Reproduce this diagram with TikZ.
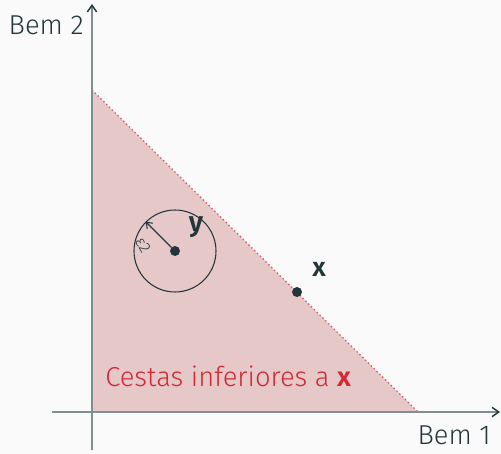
\documentclass[tikz,border=0pt]{standalone}
\usepackage{fontspec}
\setmainfont{Fira Sans Light}[BoldFont={Fira Sans SemiBold}]
\usetikzlibrary{arrows.meta}
\definecolor{bgc}{HTML}{FAFAFA}
\definecolor{txt}{HTML}{23373B}
\definecolor{axc}{HTML}{7F8E8E}
\definecolor{fillc}{HTML}{E6C8C8}
\definecolor{redc}{HTML}{D02A35}
\tikzset{
  axis/.style={axc, line width=1.1pt, -{Straight Barb[length=5pt,width=7pt,color=txt]}},
  lbl/.style={text=txt, font=\fontsize{20.5}{24}\selectfont, inner sep=0pt},
  dotpt/.style={circle, fill=txt, inner sep=0pt, minimum size=7.5pt},
}
\begin{document}
\begin{tikzpicture}[x=0.75pt,y=-0.75pt]
\fill[bgc] (0,0) rectangle (501,454);
\useasboundingbox (0,0) rectangle (501,454);
% region
\coordinate (O) at (92,412);
\coordinate (A) at (92,90);
\coordinate (B) at (418,412);
\fill[fillc] (O) -- (A) -- (B) -- cycle;
\draw[redc!80, line width=1pt, dotted] (A) -- (B);
% axes
\coordinate (xs) at (52,412);
\coordinate (xe) at (500,412);
\coordinate (ys) at (92,450);
\coordinate (ye) at (92,4);
\draw[axis] (xs) -- (xe);
\draw[axis] (ys) -- (ye);
\node[lbl, anchor=base east] (b1) at (491,444) {Bem 1};
\node[lbl, anchor=base east] (b2) at (84,34) {Bem 2};
% point x
\node[dotpt] (px) at (297,292) {};
\node[lbl, font=\fontsize{20}{24}\selectfont\bfseries] (lx) at (319,269) {x};
% circle and y
\node[dotpt] (py) at (175,251) {};
\node[draw=txt, circle, line width=0.8pt, minimum size=82pt*0.75, inner sep=0pt] (circ) at (175,251) {};
\draw[txt, line width=0.8pt, -{Straight Barb[length=4pt,width=6pt]}] (py) -- (circ.135);
\node[lbl, font=\fontsize{12}{14}\selectfont, rotate=-60] (eps) at (143,245) {ε2};
\node[lbl, font=\fontsize{21}{25}\selectfont\bfseries] (ly) at (196,227) {y};
% caption
\node[text=redc, font=\fontsize{20.5}{24}\selectfont, anchor=base west, inner sep=0pt] (cap) at (105,386) {Cestas inferiores a \textbf{x}};
\end{tikzpicture}
\end{document}
